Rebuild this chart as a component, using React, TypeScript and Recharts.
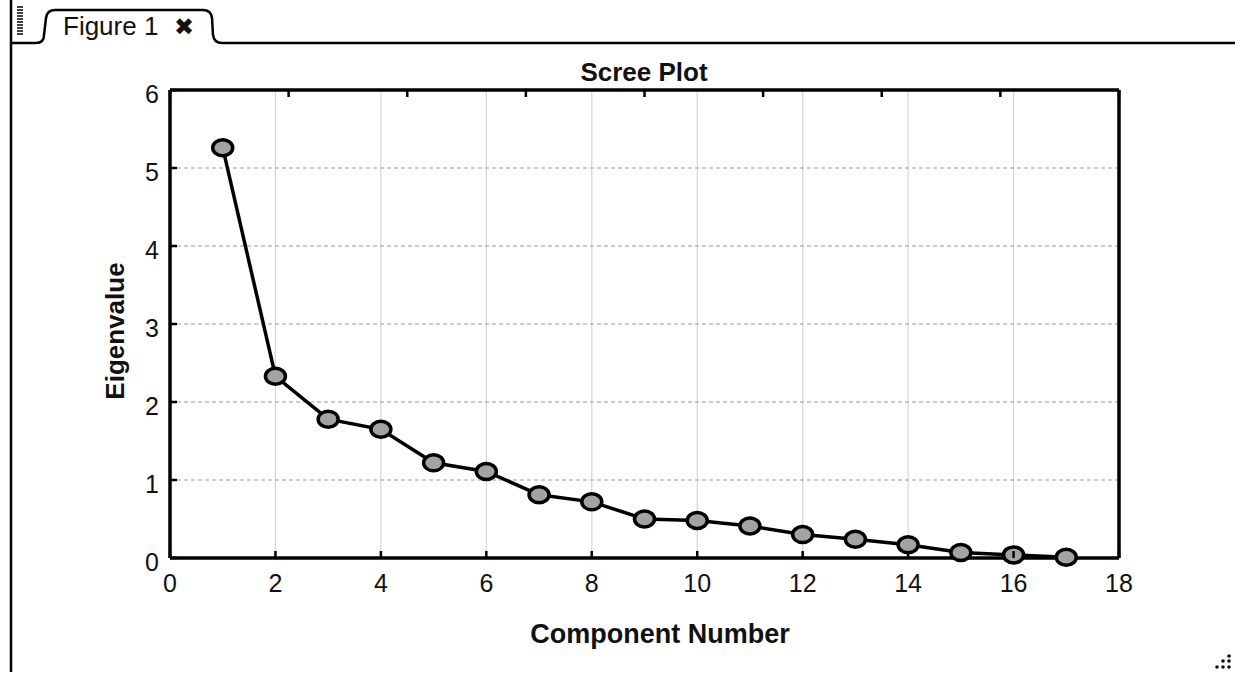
import React from 'react';
import {
  LineChart,
  Line,
  XAxis,
  YAxis,
  CartesianGrid,
} from 'recharts';

// Scree plot data: eigenvalue of each principal component
const components = [1, 2, 3, 4, 5, 6, 7, 8, 9, 10, 11, 12, 13, 14, 15, 16, 17];
const eigenvalues = [
  5.26, 2.33, 1.78, 1.65, 1.22, 1.11, 0.81, 0.72, 0.5, 0.48, 0.41, 0.3, 0.24, 0.17, 0.07, 0.04, 0.01,
];
const xTicks = [0, 2, 4, 6, 8, 10, 12, 14, 16, 18];
const yTicks = [0, 1, 2, 3, 4, 5, 6];

const data = components.map((c, i) => ({ component: c, eigen: eigenvalues[i] }));

const W = 1235;
const H = 675;
const FONT = '"Liberation Sans", Arial, Helvetica, sans-serif';
const TICK_LEN = 7;

const BottomTick = (props: any) => {
  const { x, y, payload } = props;
  return (
    <g>
      <line x1={x} x2={x} y1={y} y2={y - TICK_LEN} stroke="#000" strokeWidth={2.5} />
      <text x={x} y={y + 34} textAnchor="middle" fontSize={25} fontFamily={FONT} fill="#111">
        {payload.value}
      </text>
    </g>
  );
};

const TopTick = (props: any) => {
  const { x, y } = props;
  return <line x1={x} x2={x} y1={y} y2={y + TICK_LEN} stroke="#000" strokeWidth={2.5} />;
};

const LeftTick = (props: any) => {
  const { x, y, payload } = props;
  return (
    <g>
      <line x1={x} x2={x + TICK_LEN} y1={y} y2={y} stroke="#000" strokeWidth={2.5} />
      <text x={x - 18} y={y + 13} textAnchor="middle" fontSize={25} fontFamily={FONT} fill="#111">
        {payload.value}
      </text>
    </g>
  );
};

const RightTick = (props: any) => {
  const { x, y } = props;
  return <line x1={x} x2={x - TICK_LEN} y1={y} y2={y} stroke="#000" strokeWidth={2.5} />;
};

const EllipseDot = (props: any) => {
  const { cx, cy, index } = props;
  if (cx == null || cy == null) return null;
  return (
    <ellipse
      key={`dot-${index}`}
      cx={cx}
      cy={cy}
      rx={10}
      ry={8}
      fill="#a3a3a3"
      stroke="#000"
      strokeWidth={3.5}
    />
  );
};

// Window frame with the figure tab, resize grip and corner handle
const WindowFrame = () => (
  <svg
    width={W}
    height={H}
    style={{ position: 'absolute', left: 0, top: 0, pointerEvents: 'none' }}
  >
    <line x1={11} y1={0} x2={11} y2={672} stroke="#000" strokeWidth={2.5} />
    {Array.from({ length: 10 }).map((_, i) => (
      <line key={i} x1={17} x2={23} y1={7 + i * 3} y2={7 + i * 3} stroke="#111" strokeWidth={1.6} />
    ))}
    <path
      d="M11 43 L36 43 Q44 43 44 35 L46 18 Q47 10 55 10 L203 10 Q211 10 212 18 L213 35 Q214 43 222 43 L1235 43"
      fill="none"
      stroke="#000"
      strokeWidth={2.5}
    />
    <text x={63} y={35} fontSize={26} fontFamily={FONT} fill="#111">
      Figure 1
    </text>
    <text x={174} y={35} fontSize={24} fontWeight="bold" fontFamily="DejaVu Sans, sans-serif" fill="#111">
      ✖
    </text>
    <text
      x={644}
      y={81}
      textAnchor="middle"
      fontSize={26}
      fontWeight="bold"
      fontFamily={FONT}
      fill="#111"
    >
      Scree Plot
    </text>
    <text
      x={660}
      y={643}
      textAnchor="middle"
      fontSize={27}
      fontWeight="bold"
      fontFamily={FONT}
      fill="#111"
    >
      Component Number
    </text>
    <text
      x={0}
      y={0}
      transform="translate(124 331) rotate(-90)"
      textAnchor="middle"
      fontSize={26}
      fontWeight="bold"
      fontFamily={FONT}
      fill="#111"
    >
      Eigenvalue
    </text>
    {[
      [1229, 656],
      [1223, 661],
      [1229, 661],
      [1217, 667],
      [1223, 667],
      [1229, 667],
    ].map(([cx, cy], i) => (
      <circle key={i} cx={cx} cy={cy} r={1.8} fill="#111" />
    ))}
  </svg>
);

export default function App() {
  return (
    <div
      style={{
        position: 'fixed',
        left: 0,
        top: 0,
        width: W,
        height: H,
        background: '#fff',
        fontFamily: FONT,
      }}
    >
      <LineChart
        width={W}
        height={H}
        data={data}
        margin={{ top: 80, right: 106, bottom: 57, left: 110 }}
      >
        <CartesianGrid horizontal={false} vertical stroke="#d6d6d6" strokeWidth={1.2} />
        <CartesianGrid horizontal vertical={false} stroke="#9a9a9a" strokeDasharray="4 3" strokeWidth={1.2} />
        <XAxis
          dataKey="component"
          type="number"
          domain={[0, 18]}
          ticks={xTicks}
          interval={0}
          height={60}
          tickSize={0}
          tickMargin={0}
          tickLine={false}
          axisLine={{ stroke: '#000', strokeWidth: 3.5 }}
          tick={<BottomTick />}
        />
        <XAxis
          xAxisId="top"
          orientation="top"
          type="number"
          domain={[0, 18]}
          ticks={xTicks}
          interval={0}
          height={10}
          tickSize={0}
          tickMargin={0}
          tickLine={false}
          axisLine={{ stroke: '#000', strokeWidth: 3.5 }}
          tick={<TopTick />}
        />
        <YAxis
          type="number"
          domain={[0, 6]}
          ticks={yTicks}
          interval={0}
          width={60}
          tickSize={0}
          tickMargin={0}
          tickLine={false}
          axisLine={{ stroke: '#000', strokeWidth: 3.5 }}
          tick={<LeftTick />}
        />
        <YAxis
          yAxisId="right"
          orientation="right"
          type="number"
          domain={[0, 6]}
          ticks={yTicks}
          interval={0}
          width={10}
          tickSize={0}
          tickMargin={0}
          tickLine={false}
          axisLine={{ stroke: '#000', strokeWidth: 3.5 }}
          tick={<RightTick />}
        />
        <Line
          type="linear"
          dataKey="eigen"
          stroke="#000"
          strokeWidth={3.5}
          dot={<EllipseDot />}
          activeDot={false}
          isAnimationActive={false}
        />
      </LineChart>
      <WindowFrame />
    </div>
  );
}
